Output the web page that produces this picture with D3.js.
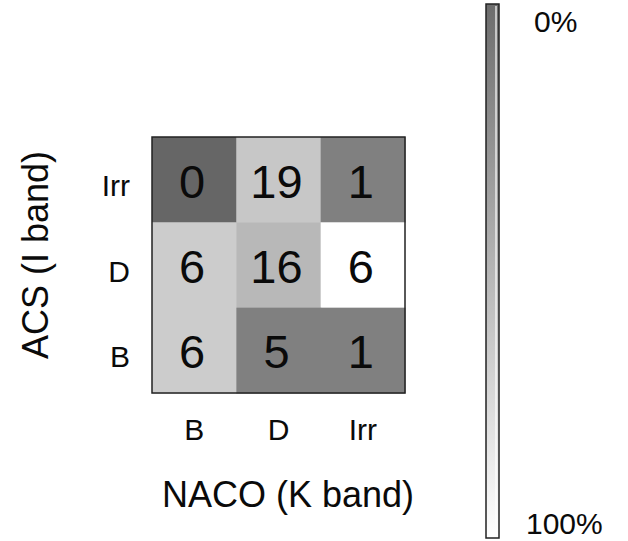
<!DOCTYPE html>
<html lang="en">
    <head>
        <meta charset="utf-8">
        <title>NACO vs ACS</title>
        <script type="text/javascript" src="https://cdn.jsdelivr.net/npm/d3@7"></script>
        <style type="text/css">
            body { margin: 0; background: #fff; }
            text { font-family: "Liberation Sans", Arial, sans-serif; fill: #0a0a0a; }
        </style>
    </head>

    <body>
        <script type="text/javascript">
            // Categories (columns = NACO K band, rows = ACS I band, top row first)
            var naco = ["B", "D", "Irr"];
            var acs = ["Irr", "D", "B"];

            // Counts per row (ACS) across columns (NACO)
            var counts = [
                [0, 19, 1],
                [6, 16, 6],
                [6, 5, 1]
            ];
            // Fraction of each NACO column, used for shading
            var shares = [
                [0.00, 0.475, 0.125],
                [0.50, 0.40, 0.75],
                [0.50, 0.125, 0.125]
            ];
            var barLabels = ["0%", "100%"];

            var w = 628;
            var h = 541;

            var svg = d3.select("body")
                        .append("svg")
                        .attr("width", w)
                        .attr("height", h);

            var x = d3.scaleBand().domain(naco).range([152, 405]);
            var y = d3.scaleBand().domain(acs).range([137, 393]);

            // dark = low share, white = high share
            var shade = d3.scaleLinear()
                          .domain([0, 0.75])
                          .range(["#666666", "#ffffff"])
                          .clamp(true);

            var cells = [];
            acs.forEach(function(r, i) {
                naco.forEach(function(c, j) {
                    cells.push({ row: r, col: c, n: counts[i][j], s: shares[i][j] });
                });
            });

            svg.selectAll("rect.cell")
                .data(cells)
                .enter()
                .append("rect")
                .attr("class", "cell")
                .attr("x", function(d) { return x(d.col); })
                .attr("y", function(d) { return y(d.row); })
                .attr("width", x.bandwidth() + 0.5)
                .attr("height", y.bandwidth() + 0.5)
                .attr("fill", function(d) { return shade(d.s); });

            svg.selectAll("text.num")
                .data(cells)
                .enter()
                .append("text")
                .attr("class", "num")
                .attr("x", function(d) { return x(d.col) + x.bandwidth() / 2 - 2; })
                .attr("y", function(d) { return y(d.row) + y.bandwidth() / 2 + 18; })
                .attr("text-anchor", "middle")
                .attr("font-size", "47px")
                .text(function(d) { return d.n; });

            // frame round the matrix
            svg.append("rect")
                .attr("x", 152)
                .attr("y", 137)
                .attr("width", 253)
                .attr("height", 256)
                .attr("fill", "none")
                .attr("stroke", "#222")
                .attr("stroke-width", 1.5);

            // category labels
            var xAxis = svg.append("g")
                .attr("transform", "translate(0,409)")
                .call(d3.axisBottom(x).tickSize(0).tickPadding(0));
            var yAxis = svg.append("g")
                .attr("transform", "translate(130,0)")
                .call(d3.axisLeft(y).tickSize(0).tickPadding(0));
            [xAxis, yAxis].forEach(function(g) {
                g.attr("font-size", null).attr("font-family", null);
                g.select(".domain").remove();
                g.selectAll("text")
                    .attr("font-size", "30px")
                    .attr("fill", "#0a0a0a");
            });
            xAxis.selectAll("text").attr("dy", "1.05em");
            yAxis.selectAll("text").attr("dy", "0.55em").attr("text-anchor", "end");

            // axis titles
            svg.append("text")
                .attr("x", 288)
                .attr("y", 507)
                .attr("text-anchor", "middle")
                .attr("font-size", "36px")
                .text("NACO (K band)");

            svg.append("text")
                .attr("transform", "translate(48,255) rotate(-90)")
                .attr("text-anchor", "middle")
                .attr("font-size", "36px")
                .text("ACS (I band)");

            // colour bar
            var defs = svg.append("defs");
            var grad = defs.append("linearGradient")
                .attr("id", "bar")
                .attr("x1", 0).attr("y1", 0)
                .attr("x2", 0).attr("y2", 1);
            grad.append("stop").attr("offset", "0%").attr("stop-color", "#6c6c6c");
            grad.append("stop").attr("offset", "100%").attr("stop-color", "#ffffff");

            var barY = d3.scaleLinear().domain([0, 1]).range([4, 538]);

            svg.append("rect")
                .attr("x", 486)
                .attr("y", barY(0))
                .attr("width", 13)
                .attr("height", barY(1) - barY(0))
                .attr("fill", "url(#bar)")
                .attr("stroke", "#222")
                .attr("stroke-width", 1.5);
            svg.append("line")
                .attr("x1", 496).attr("x2", 496)
                .attr("y1", barY(0) + 2).attr("y2", barY(1) - 2)
                .attr("stroke", "#fff")
                .attr("stroke-width", 1.5)
                .attr("opacity", 0.8);

            svg.selectAll("text.pct")
                .data(barLabels)
                .enter()
                .append("text")
                .attr("class", "pct")
                .attr("x", function(d, i) { return i === 0 ? 534 : 526; })
                .attr("y", function(d, i) { return i === 0 ? 32 : 534; })
                .attr("font-size", "30px")
                .text(function(d) { return d; });
        </script>
    </body>
</html>
